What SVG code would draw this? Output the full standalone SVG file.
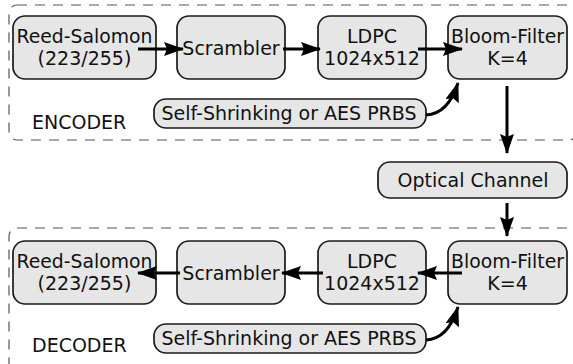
<svg xmlns="http://www.w3.org/2000/svg" width="573" height="364" viewBox="0 0 573 364">
<defs>
<style>
.frame{fill:none;stroke:#555;stroke-width:1.2;stroke-dasharray:10,8}
.box{fill:#e6e6e6;stroke:#1a1a1a;stroke-width:1.7}
.t{font-family:"DejaVu Sans",sans-serif;font-size:19px;fill:#111;text-anchor:middle}
.lbl{font-family:"DejaVu Sans",sans-serif;font-size:19px;fill:#111}
.arr{fill:none;stroke:#000;stroke-width:3;marker-end:url(#ah)}
</style>
<marker id="ah" markerUnits="userSpaceOnUse" markerWidth="20" markerHeight="14" refX="19" refY="7" orient="auto">
<path d="M0,0 L20,7 L0,14 L3,7 z" fill="#000"/>
</marker>
</defs>
<g id="encoder-frame">
<rect class="frame" x="9" y="5" width="568" height="135" rx="8"/>
<text class="lbl" x="32" y="129">ENCODER</text>
</g>
<g id="decoder-frame">
<rect class="frame" x="9" y="228" width="568" height="150" rx="8"/>
<text class="lbl" x="32" y="352">DECODER</text>
</g>
<g id="enc-rs">
<rect class="box" x="13" y="16" width="143" height="63" rx="12"/>
<text class="t" x="84.5" y="42.5" textLength="136" lengthAdjust="spacingAndGlyphs">Reed-Salomon</text>
<text class="t" x="84.5" y="64.5">(223/255)</text>
</g>
<g id="enc-scr">
<rect class="box" x="177" y="16" width="108" height="63" rx="12"/>
<text class="t" x="231" y="55">Scrambler</text>
</g>
<g id="enc-ldpc">
<rect class="box" x="318" y="16" width="108" height="63" rx="12"/>
<text class="t" x="372" y="42.5">LDPC</text>
<text class="t" x="372" y="64.5">1024x512</text>
</g>
<g id="enc-bloom">
<rect class="box" x="448" y="16" width="119" height="63" rx="12"/>
<text class="t" x="507.5" y="42.5" textLength="113" lengthAdjust="spacingAndGlyphs">Bloom-Filter</text>
<text class="t" x="507.5" y="64.5">K=4</text>
</g>
<g id="enc-prbs">
<rect class="box" x="154" y="99" width="272" height="29" rx="12"/>
<text class="t" x="289" y="120">Self-Shrinking or AES PRBS</text>
</g>
<g id="optical">
<rect class="box" x="378" y="162" width="189" height="36" rx="12"/>
<text class="t" x="473" y="186.5">Optical Channel</text>
</g>
<g id="dec-rs">
<rect class="box" x="13" y="241" width="143" height="63" rx="12"/>
<text class="t" x="84.5" y="268" textLength="136" lengthAdjust="spacingAndGlyphs">Reed-Salomon</text>
<text class="t" x="84.5" y="290">(223/255)</text>
</g>
<g id="dec-scr">
<rect class="box" x="177" y="241" width="108" height="63" rx="12"/>
<text class="t" x="231" y="280">Scrambler</text>
</g>
<g id="dec-ldpc">
<rect class="box" x="318" y="241" width="108" height="63" rx="12"/>
<text class="t" x="372" y="268">LDPC</text>
<text class="t" x="372" y="290">1024x512</text>
</g>
<g id="dec-bloom">
<rect class="box" x="448" y="241" width="119" height="63" rx="12"/>
<text class="t" x="507.5" y="268" textLength="113" lengthAdjust="spacingAndGlyphs">Bloom-Filter</text>
<text class="t" x="507.5" y="290">K=4</text>
</g>
<g id="dec-prbs">
<rect class="box" x="154" y="324" width="272" height="29" rx="12"/>
<text class="t" x="289" y="345">Self-Shrinking or AES PRBS</text>
</g>
<g id="connectors">
<path class="arr" d="M138,49 L183,49"/>
<path class="arr" d="M283,49 L320,49"/>
<path class="arr" d="M418,49 L462,49"/>
<path class="arr" d="M507,86 L507,153"/>
<path class="arr" d="M507,203 L507,236"/>
<path class="arr" d="M462,273 L418,273"/>
<path class="arr" d="M323,273 L282,273"/>
<path class="arr" d="M180,273 L138,273"/>
<path class="arr" d="M426,115 Q448,114 458,83"/>
<path class="arr" d="M426,340 Q448,339 458,307"/>
</g>
</svg>
